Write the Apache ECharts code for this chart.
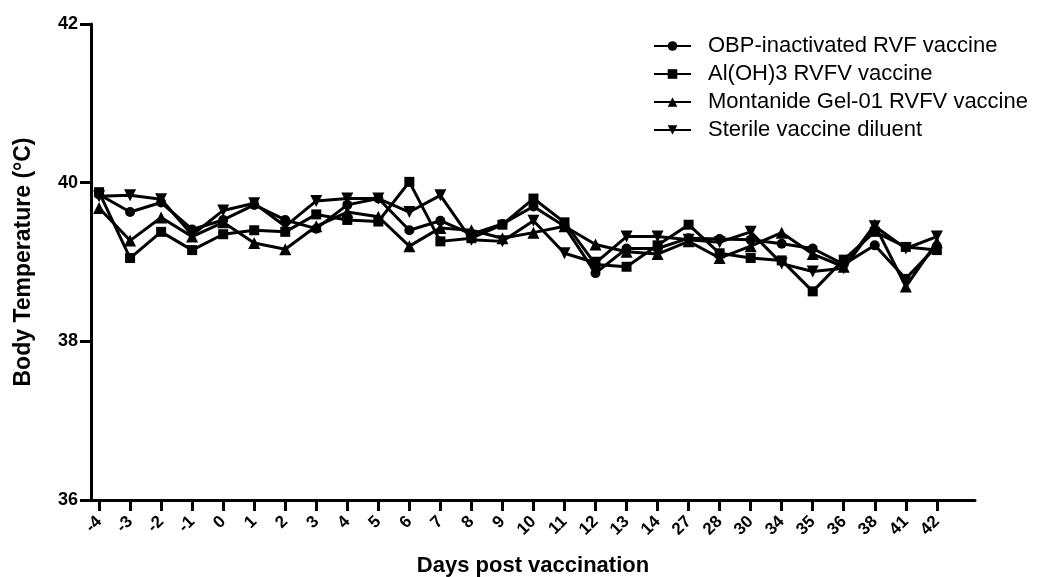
<!DOCTYPE html>
<html>
<head>
<meta charset="utf-8">
<script src="https://cdn.jsdelivr.net/npm/echarts@6/dist/echarts.min.js"></script>
<style>
  html, body { margin: 0; padding: 0; background: #fff; }
  #chart { width: 1037px; height: 577px; }
</style>
</head>
<body>
<div id="chart"></div>
<script>
// categories on the x axis (days post vaccination)
var days = ['-4','-3','-2','-1','0','1','2','3','4','5','6','7','8','9','10','11','12','13','14','27','28','30','34','35','36','38','41','42'];
// body temperature per group
var obpVals = [39.85, 39.63, 39.75, 39.41, 39.53, 39.72, 39.53, 39.42, 39.72, 39.80, 39.40, 39.52, 39.35, 39.48, 39.70, 39.45, 38.86, 39.17, 39.17, 39.30, 39.29, 39.28, 39.23, 39.17, 38.97, 39.21, 38.79, 39.20];
var alohVals = [39.88, 39.05, 39.38, 39.15, 39.35, 39.40, 39.38, 39.60, 39.53, 39.51, 40.01, 39.26, 39.30, 39.47, 39.80, 39.50, 38.97, 38.94, 39.21, 39.47, 39.11, 39.05, 39.02, 38.63, 39.03, 39.38, 39.19, 39.15];
var montVals = [39.68, 39.27, 39.56, 39.32, 39.50, 39.24, 39.16, 39.45, 39.63, 39.57, 39.20, 39.43, 39.40, 39.30, 39.37, 39.45, 39.22, 39.13, 39.10, 39.26, 39.05, 39.20, 39.37, 39.10, 38.94, 39.47, 38.69, 39.25];
var sterileVals = [39.83, 39.84, 39.79, 39.34, 39.65, 39.74, 39.45, 39.77, 39.80, 39.80, 39.63, 39.84, 39.28, 39.26, 39.52, 39.11, 38.99, 39.32, 39.32, 39.28, 39.25, 39.38, 38.98, 38.88, 38.92, 39.45, 39.17, 39.32];
var seriesNames = ['OBP-inactivated RVF vaccine', 'Al(OH)3 RVFV vaccine', 'Montanide Gel-01 RVFV vaccine', 'Sterile vaccine diluent'];
var yTicks = [36, 38, 40, 42];

var idx = days.map(function (d, i) { return i; });
function pairs(vals) {
  return vals.map(function (v, i) { return [i, v]; });
}

var font = '"Liberation Sans", Arial, sans-serif';

function makeSeries(name, vals, symbol, rotate, size) {
  return {
    name: name,
    type: 'line',
    data: pairs(vals),
    symbol: symbol,
    symbolSize: size,
    symbolRotate: rotate,
    showAllSymbol: true,
    lineStyle: { color: '#000', width: 3 },
    itemStyle: { color: '#000' },
    emphasis: { disabled: true },
    animation: false
  };
}

var chart = echarts.init(document.getElementById('chart'));
chart.setOption({
  backgroundColor: '#fff',
  animation: false,
  grid: { left: 91, right: 62, top: 24, bottom: 77, outerBoundsMode: 'none', containLabel: false },
  legend: {
    orient: 'vertical',
    left: 648,
    top: 30,
    itemWidth: 37,
    itemHeight: 12,
    itemGap: 6,
    data: seriesNames,
    textStyle: { fontFamily: font, fontSize: 22, lineHeight: 22, color: '#000', padding: [0, 0, 0, 12] }
  },
  xAxis: {
    type: 'value',
    min: -0.26,
    max: 28.23,
    name: 'Days post vaccination',
    nameLocation: 'middle',
    nameGap: 55,
    nameTextStyle: { fontFamily: font, fontSize: 22, fontWeight: 'bold', color: '#000' },
    splitLine: { show: false },
    axisLine: { onZero: false, lineStyle: { color: '#000', width: 3 } },
    axisTick: { customValues: idx, length: 11, lineStyle: { color: '#000', width: 3 } },
    axisLabel: {
      customValues: idx,
      rotate: 45,
      margin: 19,
      fontFamily: font,
      fontSize: 17,
      fontWeight: 'bold',
      color: '#000',
      formatter: function (v) { return days[Math.round(v)]; }
    }
  },
  yAxis: {
    type: 'value',
    min: yTicks[0],
    max: yTicks[yTicks.length - 1],
    interval: 2,
    name: 'Body Temperature (°C)',
    nameLocation: 'middle',
    nameGap: 56,
    nameTextStyle: { fontFamily: font, fontSize: 23, fontWeight: 'bold', color: '#000' },
    splitLine: { show: false },
    axisLine: { show: true, onZero: false, lineStyle: { color: '#000', width: 3 } },
    axisTick: { show: true, length: 11, lineStyle: { color: '#000', width: 3 } },
    axisLabel: { margin: 13, fontFamily: font, fontSize: 18, fontWeight: 'bold', color: '#000' }
  },
  series: [
    makeSeries(seriesNames[0], obpVals, 'circle', 0, 10),
    makeSeries(seriesNames[1], alohVals, 'rect', 0, 10),
    makeSeries(seriesNames[2], montVals, 'triangle', 0, 12),
    makeSeries(seriesNames[3], sterileVals, 'triangle', 180, 12)
  ]
});
</script>
</body>
</html>
